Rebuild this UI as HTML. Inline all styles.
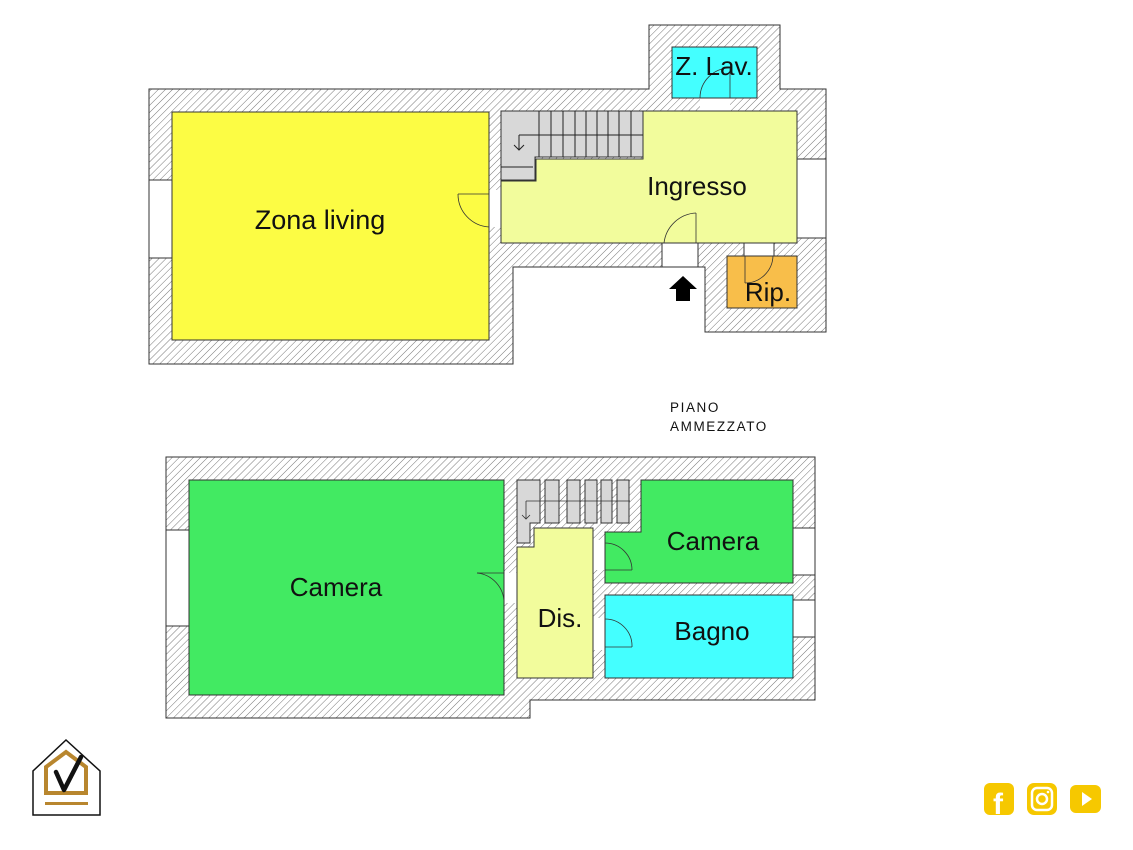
<!DOCTYPE html>
<html><head><meta charset="utf-8"><style>
html,body{margin:0;padding:0;background:#fff;}
svg{display:block;}
text{font-family:"Liberation Sans",sans-serif;fill:#111;}
</style></head><body>
<svg width="1133" height="850" viewBox="0 0 1133 850" xmlns="http://www.w3.org/2000/svg">
<defs>
<pattern id="h" patternUnits="userSpaceOnUse" width="5" height="5" patternTransform="rotate(45)">
<rect width="5" height="5" fill="#fff"/>
<line x1="0" y1="0" x2="0" y2="5" stroke="#777" stroke-width="1"/>
</pattern>
</defs>
<polygon points="149,89 649,89 649,25 780,25 780,89 826,89 826,332 705,332 705,267 513,267 513,364 149,364" fill="url(#h)" stroke="#333" stroke-width="1"/>
<rect x="149" y="180" width="23" height="78" fill="#fff" stroke="#333" stroke-width="1"/>
<rect x="797" y="159" width="29" height="79" fill="#fff" stroke="#333" stroke-width="1"/>
<rect x="489" y="190" width="12" height="37" fill="#fff"/>
<rect x="700" y="98" width="30" height="13" fill="#fff"/>
<rect x="662" y="243" width="36" height="24" fill="#fff" stroke="#333" stroke-width="1"/>
<rect x="744" y="243" width="30" height="13" fill="#fff" stroke="#333" stroke-width="1"/>
<rect x="172" y="112" width="317" height="228" fill="#fcfc44" stroke="#333" stroke-width="1"/>
<polygon points="643,111 797,111 797,243 501,243 501,181 536,181 536,159 643,159" fill="#f2fc9c" stroke="#333" stroke-width="1"/>
<polygon points="501,111 643,111 643,157 535,157 535,180 501,180" fill="#d8d8d8" stroke="#333" stroke-width="1"/>
<g stroke="#222" stroke-width="1">
<line x1="539" y1="111" x2="539" y2="157"/><line x1="551" y1="111" x2="551" y2="157"/><line x1="563" y1="111" x2="563" y2="157"/><line x1="575" y1="111" x2="575" y2="157"/><line x1="586" y1="111" x2="586" y2="157"/><line x1="597" y1="111" x2="597" y2="157"/><line x1="608" y1="111" x2="608" y2="157"/><line x1="619" y1="111" x2="619" y2="157"/><line x1="631" y1="111" x2="631" y2="157"/>
<line x1="501" y1="167" x2="533" y2="167"/>
<line x1="519" y1="135" x2="643" y2="135"/><line x1="519" y1="135" x2="519" y2="150"/>
<polyline points="514,145 519,150 524,145" fill="none"/>
</g>
<rect x="672" y="47" width="85" height="51" fill="#44ffff" stroke="#333" stroke-width="1"/>
<rect x="727" y="256" width="70" height="52" fill="#f8be4a" stroke="#333" stroke-width="1"/>
<g fill="none" stroke="#333" stroke-width="0.8">
<path d="M700,98 A30,30 0 0 1 730,68"/><line x1="730" y1="68" x2="730" y2="98"/>
<path d="M664,243 A34,34 0 0 1 696,213"/><line x1="696" y1="213" x2="696" y2="243"/>
<path d="M745,283 A28,28 0 0 0 773,256"/><line x1="745" y1="256" x2="745" y2="283"/>
<path d="M489,227 A33,33 0 0 1 458,194"/><line x1="458" y1="194" x2="489" y2="194"/>
</g>
<polygon points="683,276 697,289 690,289 690,301 676,301 676,289 669,289" fill="#000"/>
<text x="320" y="229" font-size="27" text-anchor="middle">Zona living</text>
<text x="697" y="195" font-size="26" text-anchor="middle">Ingresso</text>
<text x="714" y="75" font-size="26" text-anchor="middle">Z. Lav.</text>
<text x="768" y="301" font-size="26" text-anchor="middle">Rip.</text>
<text x="670" y="412" font-size="13.5" letter-spacing="1.6" fill="#222">PIANO</text>
<text x="670" y="431" font-size="13.5" letter-spacing="1.6" fill="#222">AMMEZZATO</text>
<polygon points="166,457 815,457 815,700 530,700 530,718 166,718" fill="url(#h)" stroke="#333" stroke-width="1"/>
<rect x="166" y="530" width="23" height="96" fill="#fff" stroke="#333" stroke-width="1"/>
<rect x="793" y="528" width="22" height="47" fill="#fff" stroke="#333" stroke-width="1"/>
<rect x="793" y="600" width="22" height="37" fill="#fff" stroke="#333" stroke-width="1"/>
<rect x="504" y="573" width="13" height="30" fill="#fff"/>
<rect x="593" y="540" width="12" height="30" fill="#fff"/>
<rect x="593" y="618" width="12" height="32" fill="#fff"/>
<rect x="189" y="480" width="315" height="215" fill="#42ea62" stroke="#333" stroke-width="1"/>
<polygon points="641,480 793,480 793,583 605,583 605,532 641,532" fill="#42ea62" stroke="#333" stroke-width="1"/>
<rect x="605" y="595" width="188" height="83" fill="#44ffff" stroke="#333" stroke-width="1"/>
<polygon points="534,528 593,528 593,678 517,678 517,547 534,547" fill="#f2fc9c" stroke="#333" stroke-width="1"/>
<g fill="#d8d8d8" stroke="#333" stroke-width="1">
<polygon points="517,480 540,480 540,523 530,523 530,543 517,543"/>
<rect x="545" y="480" width="14" height="43"/>
<rect x="567" y="480" width="13" height="43"/>
<rect x="585" y="480" width="12" height="43"/>
<rect x="601" y="480" width="11" height="43"/>
<rect x="617" y="480" width="12" height="43"/>
</g>
<g fill="none" stroke="#333" stroke-width="0.8">
<line x1="526" y1="501" x2="630" y2="501"/>
<line x1="526" y1="501" x2="526" y2="519"/><polyline points="522,515 526,519 530,515"/>
<path d="M504,603 A30,30 0 0 0 477,573"/><line x1="477" y1="573" x2="504" y2="573"/>
<path d="M605,543 A27,27 0 0 1 632,570"/><line x1="605" y1="570" x2="632" y2="570"/>
<path d="M605,619 A27,27 0 0 1 632,647"/><line x1="605" y1="647" x2="632" y2="647"/>
</g>
<text x="336" y="596" font-size="26" text-anchor="middle">Camera</text>
<text x="713" y="550" font-size="26" text-anchor="middle">Camera</text>
<text x="560" y="627" font-size="26" text-anchor="middle">Dis.</text>
<text x="712" y="640" font-size="26" text-anchor="middle">Bagno</text>
<polygon points="33,815 33,771 66,740 100,771 100,815" fill="#fff" stroke="#111" stroke-width="1.5"/>
<polygon points="46,793 46,767 66,752 86,767 86,793" fill="none" stroke="#b8862e" stroke-width="4"/>
<rect x="45" y="802" width="43" height="3" fill="#b8862e"/>
<polyline points="56,772 64,790 81,757" fill="none" stroke="#111" stroke-width="4.5" stroke-linecap="round" stroke-linejoin="round"/>
<rect x="984" y="783" width="30" height="32" rx="6" fill="#f6c800"/>
<text x="993" y="814" font-size="30" font-weight="bold" style="fill:#fff">f</text>
<rect x="1027" y="783" width="30" height="32" rx="7" fill="#f6c800"/>
<rect x="1032" y="788" width="20" height="22" rx="5" fill="none" stroke="#fff" stroke-width="2.5"/>
<circle cx="1042" cy="799" r="5" fill="none" stroke="#fff" stroke-width="2.5"/>
<circle cx="1048" cy="792" r="1.3" fill="#fff"/>
<rect x="1070" y="785" width="31" height="28" rx="6" fill="#f6c800"/>
<polygon points="1082,792 1092,799 1082,806" fill="#fff"/>
</svg>
</body></html>
